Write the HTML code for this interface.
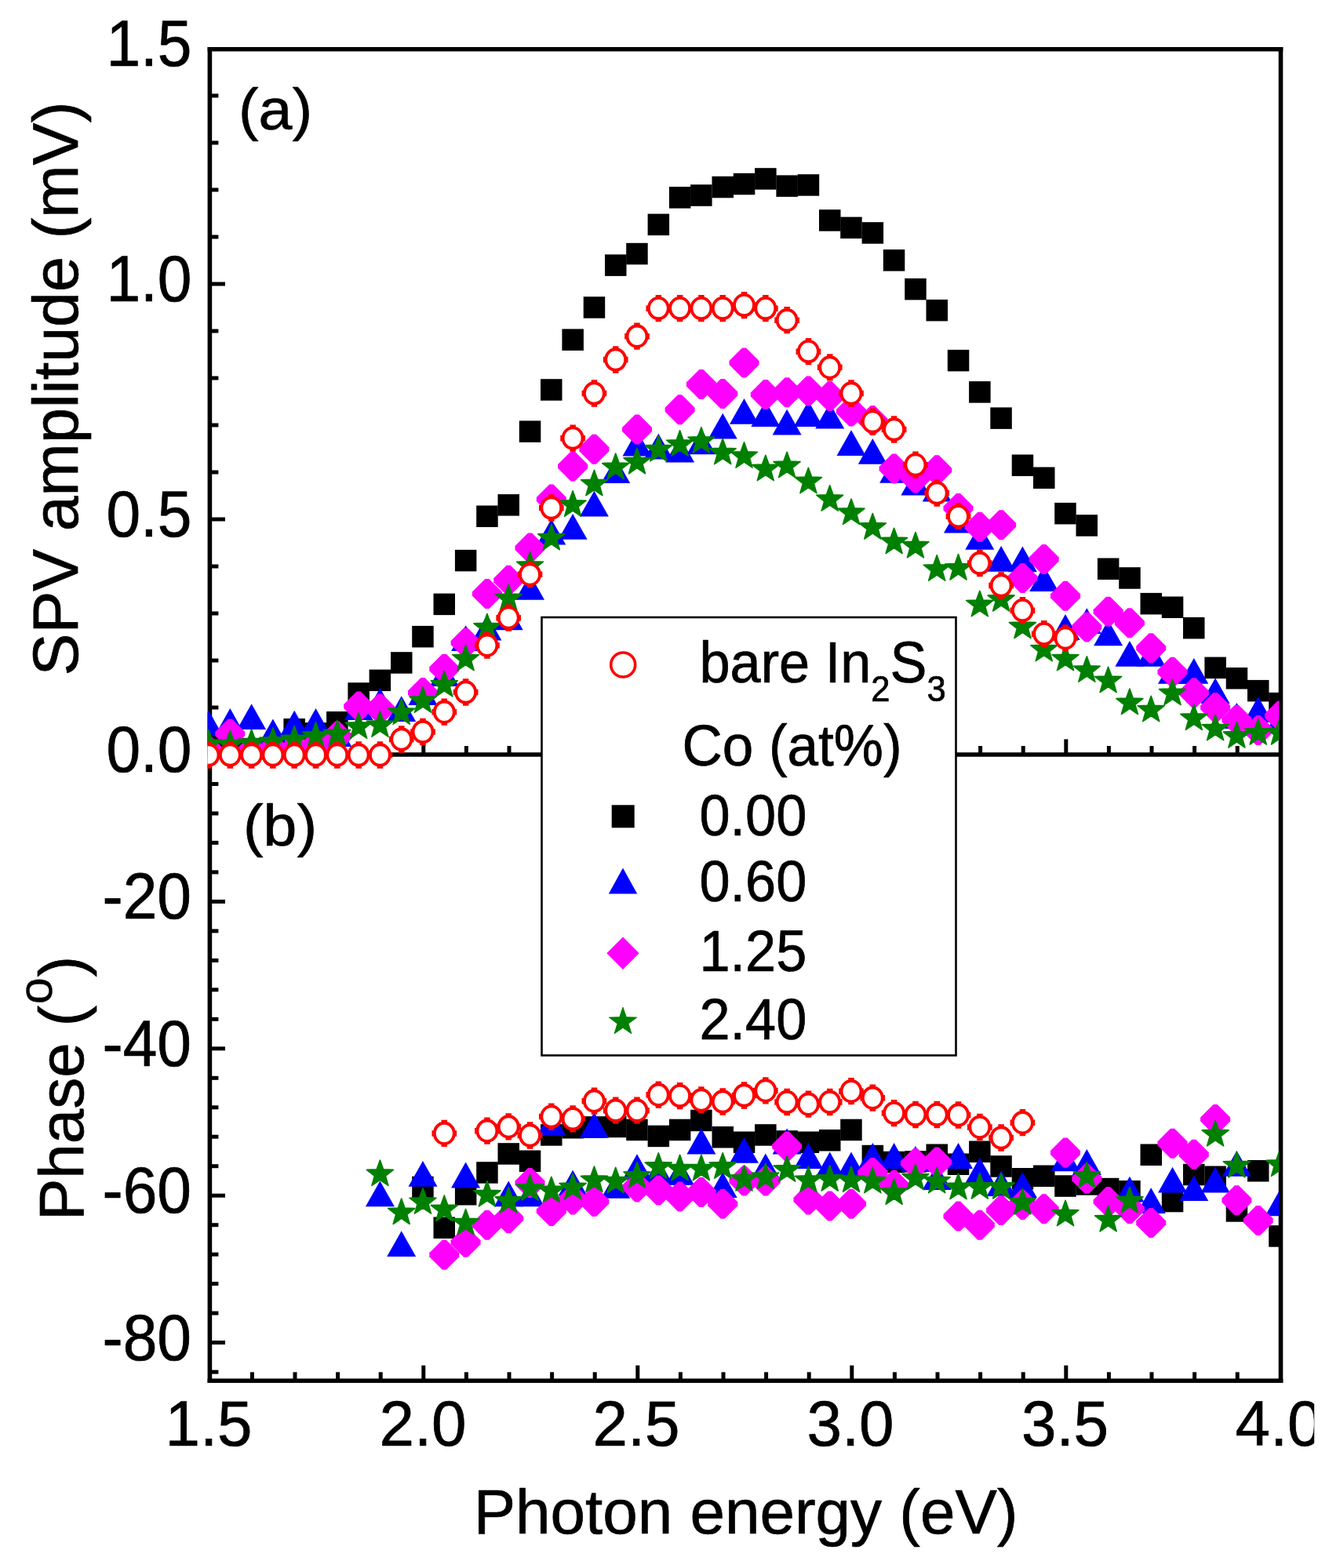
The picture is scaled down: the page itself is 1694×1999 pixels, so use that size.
<!DOCTYPE html>
<html lang="en">
<head>
<meta charset="utf-8">
<title>SPV amplitude and phase spectra</title>
<style>
html,body{margin:0;padding:0;background:#ffffff;}
body{width:1694px;height:1999px;overflow:hidden;}
svg{display:block;}
text{font-family:"Liberation Sans","DejaVu Sans",sans-serif;fill:#000000;}
</style>
</head>
<body>
<svg width="1694" height="1999" viewBox="0 0 1694 1999">
<rect x="0" y="0" width="1694" height="1999" fill="#ffffff"/>
<clipPath id="labclip"><rect x="0" y="0" width="1675.2" height="1999"/></clipPath>
<clipPath id="plotclip"><rect x="264.5" y="22.7" width="1365.9" height="1777.6"/></clipPath>
<g id="axis-ticks" stroke="#000000" stroke-width="5" fill="none">
<line x1="267.4" y1="902" x2="278.4" y2="902"/>
<line x1="267.4" y1="842" x2="278.4" y2="842"/>
<line x1="267.4" y1="782" x2="278.4" y2="782"/>
<line x1="267.4" y1="722" x2="278.4" y2="722"/>
<line x1="267.4" y1="662" x2="287" y2="662"/>
<line x1="267.4" y1="602" x2="278.4" y2="602"/>
<line x1="267.4" y1="542" x2="278.4" y2="542"/>
<line x1="267.4" y1="482" x2="278.4" y2="482"/>
<line x1="267.4" y1="422" x2="278.4" y2="422"/>
<line x1="267.4" y1="362" x2="287" y2="362"/>
<line x1="267.4" y1="302" x2="278.4" y2="302"/>
<line x1="267.4" y1="242" x2="278.4" y2="242"/>
<line x1="267.4" y1="182" x2="278.4" y2="182"/>
<line x1="267.4" y1="122" x2="278.4" y2="122"/>
<line x1="267.4" y1="999.5" x2="278.4" y2="999.5"/>
<line x1="267.4" y1="1037" x2="278.4" y2="1037"/>
<line x1="267.4" y1="1074.4" x2="278.4" y2="1074.4"/>
<line x1="267.4" y1="1111.9" x2="278.4" y2="1111.9"/>
<line x1="267.4" y1="1149.4" x2="287" y2="1149.4"/>
<line x1="267.4" y1="1186.9" x2="278.4" y2="1186.9"/>
<line x1="267.4" y1="1224.4" x2="278.4" y2="1224.4"/>
<line x1="267.4" y1="1261.8" x2="278.4" y2="1261.8"/>
<line x1="267.4" y1="1299.3" x2="278.4" y2="1299.3"/>
<line x1="267.4" y1="1336.8" x2="287" y2="1336.8"/>
<line x1="267.4" y1="1374.3" x2="278.4" y2="1374.3"/>
<line x1="267.4" y1="1411.8" x2="278.4" y2="1411.8"/>
<line x1="267.4" y1="1449.2" x2="278.4" y2="1449.2"/>
<line x1="267.4" y1="1486.7" x2="278.4" y2="1486.7"/>
<line x1="267.4" y1="1524.2" x2="287" y2="1524.2"/>
<line x1="267.4" y1="1561.7" x2="278.4" y2="1561.7"/>
<line x1="267.4" y1="1599.2" x2="278.4" y2="1599.2"/>
<line x1="267.4" y1="1636.6" x2="278.4" y2="1636.6"/>
<line x1="267.4" y1="1674.1" x2="278.4" y2="1674.1"/>
<line x1="267.4" y1="1711.6" x2="287" y2="1711.6"/>
<line x1="267.4" y1="1749.1" x2="278.4" y2="1749.1"/>
<line x1="321.4" y1="1760.3" x2="321.4" y2="1749.3"/>
<line x1="376" y1="1760.3" x2="376" y2="1749.3"/>
<line x1="430.6" y1="1760.3" x2="430.6" y2="1749.3"/>
<line x1="485.2" y1="1760.3" x2="485.2" y2="1749.3"/>
<line x1="539.8" y1="1760.3" x2="539.8" y2="1740.7"/>
<line x1="594.4" y1="1760.3" x2="594.4" y2="1749.3"/>
<line x1="649" y1="1760.3" x2="649" y2="1749.3"/>
<line x1="703.6" y1="1760.3" x2="703.6" y2="1749.3"/>
<line x1="758.2" y1="1760.3" x2="758.2" y2="1749.3"/>
<line x1="812.8" y1="1760.3" x2="812.8" y2="1740.7"/>
<line x1="867.4" y1="1760.3" x2="867.4" y2="1749.3"/>
<line x1="922" y1="1760.3" x2="922" y2="1749.3"/>
<line x1="976.6" y1="1760.3" x2="976.6" y2="1749.3"/>
<line x1="1031.2" y1="1760.3" x2="1031.2" y2="1749.3"/>
<line x1="1085.8" y1="1760.3" x2="1085.8" y2="1740.7"/>
<line x1="1140.4" y1="1760.3" x2="1140.4" y2="1749.3"/>
<line x1="1195" y1="1760.3" x2="1195" y2="1749.3"/>
<line x1="1249.6" y1="1760.3" x2="1249.6" y2="1749.3"/>
<line x1="1304.2" y1="1760.3" x2="1304.2" y2="1749.3"/>
<line x1="1358.8" y1="1760.3" x2="1358.8" y2="1740.7"/>
<line x1="1413.4" y1="1760.3" x2="1413.4" y2="1749.3"/>
<line x1="1468" y1="1760.3" x2="1468" y2="1749.3"/>
<line x1="1522.6" y1="1760.3" x2="1522.6" y2="1749.3"/>
<line x1="1577.2" y1="1760.3" x2="1577.2" y2="1749.3"/>
<line x1="321.4" y1="962" x2="321.4" y2="951"/>
<line x1="376" y1="962" x2="376" y2="951"/>
<line x1="430.6" y1="962" x2="430.6" y2="951"/>
<line x1="485.2" y1="962" x2="485.2" y2="951"/>
<line x1="539.8" y1="962" x2="539.8" y2="942.4"/>
<line x1="594.4" y1="962" x2="594.4" y2="951"/>
<line x1="649" y1="962" x2="649" y2="951"/>
<line x1="703.6" y1="962" x2="703.6" y2="951"/>
<line x1="758.2" y1="962" x2="758.2" y2="951"/>
<line x1="812.8" y1="962" x2="812.8" y2="942.4"/>
<line x1="867.4" y1="962" x2="867.4" y2="951"/>
<line x1="922" y1="962" x2="922" y2="951"/>
<line x1="976.6" y1="962" x2="976.6" y2="951"/>
<line x1="1031.2" y1="962" x2="1031.2" y2="951"/>
<line x1="1085.8" y1="962" x2="1085.8" y2="942.4"/>
<line x1="1140.4" y1="962" x2="1140.4" y2="951"/>
<line x1="1195" y1="962" x2="1195" y2="951"/>
<line x1="1249.6" y1="962" x2="1249.6" y2="951"/>
<line x1="1304.2" y1="962" x2="1304.2" y2="951"/>
<line x1="1358.8" y1="962" x2="1358.8" y2="942.4"/>
<line x1="1413.4" y1="962" x2="1413.4" y2="951"/>
<line x1="1468" y1="962" x2="1468" y2="951"/>
<line x1="1522.6" y1="962" x2="1522.6" y2="951"/>
<line x1="1577.2" y1="962" x2="1577.2" y2="951"/>
</g>
<line x1="267.4" y1="962" x2="1632.5" y2="962" stroke="#000000" stroke-width="5.6"/>
<g id="frame" stroke="#000000" stroke-width="5.6" fill="none" stroke-linecap="square">
<line x1="267.4" y1="62.7" x2="267.4" y2="1760.3"/>
<line x1="267.4" y1="62.7" x2="1632.5" y2="62.7"/>
<line x1="1632.5" y1="62.7" x2="1632.5" y2="1760.3"/>
<line x1="267.4" y1="1760.3" x2="1632.5" y2="1760.3"/>
</g>
<g clip-path="url(#plotclip)">
<g id="lower">
<g fill="#000000">
<rect x="525.2" y="1499.7" width="27.5" height="27.5"/>
<rect x="552.5" y="1551.5" width="27.5" height="27.5"/>
<rect x="579.9" y="1509" width="27.5" height="27.5"/>
<rect x="607.2" y="1481.2" width="27.5" height="27.5"/>
<rect x="634.5" y="1457.2" width="27.5" height="27.5"/>
<rect x="661.8" y="1466.5" width="27.5" height="27.5"/>
<rect x="689" y="1433.2" width="27.5" height="27.5"/>
<rect x="716.4" y="1424" width="27.5" height="27.5"/>
<rect x="743.7" y="1423.2" width="27.5" height="27.5"/>
<rect x="771" y="1422.7" width="27.5" height="27.5"/>
<rect x="798.2" y="1426.7" width="27.5" height="27.5"/>
<rect x="825.6" y="1434.7" width="27.5" height="27.5"/>
<rect x="852.9" y="1426.7" width="27.5" height="27.5"/>
<rect x="880.1" y="1414.7" width="27.5" height="27.5"/>
<rect x="907.5" y="1436" width="27.5" height="27.5"/>
<rect x="934.8" y="1442.5" width="27.5" height="27.5"/>
<rect x="962.1" y="1433.2" width="27.5" height="27.5"/>
<rect x="989.4" y="1441.2" width="27.5" height="27.5"/>
<rect x="1016.7" y="1442.5" width="27.5" height="27.5"/>
<rect x="1044" y="1440" width="27.5" height="27.5"/>
<rect x="1071.2" y="1426.7" width="27.5" height="27.5"/>
<rect x="1098.6" y="1459.8" width="27.5" height="27.5"/>
<rect x="1125.8" y="1467.8" width="27.5" height="27.5"/>
<rect x="1153.2" y="1467.2" width="27.5" height="27.5"/>
<rect x="1180.5" y="1458.5" width="27.5" height="27.5"/>
<rect x="1207.8" y="1470.5" width="27.5" height="27.5"/>
<rect x="1235.1" y="1454.5" width="27.5" height="27.5"/>
<rect x="1262.3" y="1473.2" width="27.5" height="27.5"/>
<rect x="1289.7" y="1489" width="27.5" height="27.5"/>
<rect x="1317" y="1485.5" width="27.5" height="27.5"/>
<rect x="1344.2" y="1498.3" width="27.5" height="27.5"/>
<rect x="1371.5" y="1496.2" width="27.5" height="27.5"/>
<rect x="1398.9" y="1501.8" width="27.5" height="27.5"/>
<rect x="1426.2" y="1505" width="27.5" height="27.5"/>
<rect x="1453.5" y="1458.5" width="27.5" height="27.5"/>
<rect x="1480.8" y="1517.8" width="27.5" height="27.5"/>
<rect x="1508" y="1483.8" width="27.5" height="27.5"/>
<rect x="1535.4" y="1486.5" width="27.5" height="27.5"/>
<rect x="1562.7" y="1530.2" width="27.5" height="27.5"/>
<rect x="1590" y="1479" width="27.5" height="27.5"/>
<rect x="1617.2" y="1562.2" width="27.5" height="27.5"/>
</g>
<g fill="#0000ff">
<polygon points="484.4,1505.5 502.9,1538.3 465.9,1538.3"/>
<polygon points="511.7,1569.3 530.2,1602.1 493.2,1602.1"/>
<polygon points="539,1480 557.5,1512.8 520.5,1512.8"/>
<polygon points="593.6,1481.6 612.1,1514.4 575.1,1514.4"/>
<polygon points="648.2,1505.5 666.7,1538.3 629.7,1538.3"/>
<polygon points="675.5,1505.5 694,1538.3 657,1538.3"/>
<polygon points="702.8,1415.2 721.3,1448 684.3,1448"/>
<polygon points="730.1,1491.7 748.6,1524.5 711.6,1524.5"/>
<polygon points="757.4,1417.9 775.9,1450.7 738.9,1450.7"/>
<polygon points="784.7,1494.9 803.2,1527.7 766.2,1527.7"/>
<polygon points="812,1471.2 830.5,1504 793.5,1504"/>
<polygon points="839.3,1477.2 857.8,1510 820.8,1510"/>
<polygon points="866.6,1478.2 885.1,1511 848.1,1511"/>
<polygon points="893.9,1438.6 912.4,1471.4 875.4,1471.4"/>
<polygon points="921.2,1494.3 939.7,1527.1 902.7,1527.1"/>
<polygon points="948.5,1450 967,1482.8 930,1482.8"/>
<polygon points="975.8,1470.4 994.3,1503.2 957.3,1503.2"/>
<polygon points="1003.1,1438.6 1021.6,1471.4 984.6,1471.4"/>
<polygon points="1030.4,1457.1 1048.9,1489.9 1011.9,1489.9"/>
<polygon points="1057.7,1468.6 1076.2,1501.4 1039.2,1501.4"/>
<polygon points="1085,1468.6 1103.5,1501.4 1066.5,1501.4"/>
<polygon points="1112.3,1457.1 1130.8,1489.9 1093.8,1489.9"/>
<polygon points="1139.6,1457.1 1158.1,1489.9 1121.1,1489.9"/>
<polygon points="1166.9,1461.1 1185.4,1493.9 1148.4,1493.9"/>
<polygon points="1194.2,1484.2 1212.7,1517 1175.7,1517"/>
<polygon points="1221.5,1457.1 1240,1489.9 1203,1489.9"/>
<polygon points="1248.8,1475.8 1267.3,1508.6 1230.3,1508.6"/>
<polygon points="1276.1,1492.2 1294.6,1525 1257.6,1525"/>
<polygon points="1303.4,1494.3 1321.9,1527.1 1284.9,1527.1"/>
<polygon points="1358,1460.4 1376.5,1493.2 1339.5,1493.2"/>
<polygon points="1385.3,1465.1 1403.8,1497.9 1366.8,1497.9"/>
<polygon points="1439.9,1499.7 1458.4,1532.5 1421.4,1532.5"/>
<polygon points="1467.2,1514.3 1485.7,1547.1 1448.7,1547.1"/>
<polygon points="1494.5,1487.7 1513,1520.5 1476,1520.5"/>
<polygon points="1521.8,1498.3 1540.3,1531.1 1503.3,1531.1"/>
<polygon points="1549.1,1487.7 1567.6,1520.5 1530.6,1520.5"/>
<polygon points="1576.4,1467 1594.9,1499.8 1557.9,1499.8"/>
<polygon points="1631,1517.5 1649.5,1550.3 1612.5,1550.3"/>
</g>
<g fill="#ff00ff">
<polygon points="563.8,1580.8 568.8,1580.8 585.3,1597.3 585.3,1602.3 568.8,1618.8 563.8,1618.8 547.3,1602.3 547.3,1597.3"/>
<polygon points="591.1,1564.8 596.1,1564.8 612.6,1581.3 612.6,1586.3 596.1,1602.8 591.1,1602.8 574.6,1586.3 574.6,1581.3"/>
<polygon points="618.4,1542.8 623.4,1542.8 639.9,1559.3 639.9,1564.3 623.4,1580.8 618.4,1580.8 601.9,1564.3 601.9,1559.3"/>
<polygon points="645.7,1534.3 650.7,1534.3 667.2,1550.8 667.2,1555.8 650.7,1572.3 645.7,1572.3 629.2,1555.8 629.2,1550.8"/>
<polygon points="673,1489.1 678,1489.1 694.5,1505.6 694.5,1510.6 678,1527.1 673,1527.1 656.5,1510.6 656.5,1505.6"/>
<polygon points="700.3,1525 705.3,1525 721.8,1541.5 721.8,1546.5 705.3,1563 700.3,1563 683.8,1546.5 683.8,1541.5"/>
<polygon points="727.6,1510.4 732.6,1510.4 749.1,1526.9 749.1,1531.9 732.6,1548.4 727.6,1548.4 711.1,1531.9 711.1,1526.9"/>
<polygon points="754.9,1513 759.9,1513 776.4,1529.5 776.4,1534.5 759.9,1551 754.9,1551 738.4,1534.5 738.4,1529.5"/>
<polygon points="809.5,1494.4 814.5,1494.4 831,1510.9 831,1515.9 814.5,1532.4 809.5,1532.4 793,1515.9 793,1510.9"/>
<polygon points="836.8,1498.4 841.8,1498.4 858.3,1514.9 858.3,1519.9 841.8,1536.4 836.8,1536.4 820.3,1519.9 820.3,1514.9"/>
<polygon points="864.1,1506.4 869.1,1506.4 885.6,1522.9 885.6,1527.9 869.1,1544.4 864.1,1544.4 847.6,1527.9 847.6,1522.9"/>
<polygon points="891.4,1501 896.4,1501 912.9,1517.5 912.9,1522.5 896.4,1539 891.4,1539 874.9,1522.5 874.9,1517.5"/>
<polygon points="918.7,1515.7 923.7,1515.7 940.2,1532.2 940.2,1537.2 923.7,1553.7 918.7,1553.7 902.2,1537.2 902.2,1532.2"/>
<polygon points="946,1486.5 951,1486.5 967.5,1503 967.5,1508 951,1524.5 946,1524.5 929.5,1508 929.5,1503"/>
<polygon points="973.3,1486.5 978.3,1486.5 994.8,1503 994.8,1508 978.3,1524.5 973.3,1524.5 956.8,1508 956.8,1503"/>
<polygon points="1000.6,1442.6 1005.6,1442.6 1022.1,1459.1 1022.1,1464.1 1005.6,1480.6 1000.6,1480.6 984.1,1464.1 984.1,1459.1"/>
<polygon points="1027.9,1510.4 1032.9,1510.4 1049.4,1526.9 1049.4,1531.9 1032.9,1548.4 1027.9,1548.4 1011.4,1531.9 1011.4,1526.9"/>
<polygon points="1055.2,1518.4 1060.2,1518.4 1076.7,1534.9 1076.7,1539.9 1060.2,1556.4 1055.2,1556.4 1038.7,1539.9 1038.7,1534.9"/>
<polygon points="1082.5,1515.7 1087.5,1515.7 1104,1532.2 1104,1537.2 1087.5,1553.7 1082.5,1553.7 1066,1537.2 1066,1532.2"/>
<polygon points="1109.8,1475.9 1114.8,1475.9 1131.3,1492.4 1131.3,1497.4 1114.8,1513.9 1109.8,1513.9 1093.3,1497.4 1093.3,1492.4"/>
<polygon points="1137.1,1491.8 1142.1,1491.8 1158.6,1508.3 1158.6,1513.3 1142.1,1529.8 1137.1,1529.8 1120.6,1513.3 1120.6,1508.3"/>
<polygon points="1164.4,1463.9 1169.4,1463.9 1185.9,1480.4 1185.9,1485.4 1169.4,1501.9 1164.4,1501.9 1147.9,1485.4 1147.9,1480.4"/>
<polygon points="1191.7,1462.6 1196.7,1462.6 1213.2,1479.1 1213.2,1484.1 1196.7,1500.6 1191.7,1500.6 1175.2,1484.1 1175.2,1479.1"/>
<polygon points="1219,1531.6 1224,1531.6 1240.5,1548.1 1240.5,1553.1 1224,1569.6 1219,1569.6 1202.5,1553.1 1202.5,1548.1"/>
<polygon points="1246.3,1542.8 1251.3,1542.8 1267.8,1559.3 1267.8,1564.3 1251.3,1580.8 1246.3,1580.8 1229.8,1564.3 1229.8,1559.3"/>
<polygon points="1273.6,1524 1278.6,1524 1295.1,1540.5 1295.1,1545.5 1278.6,1562 1273.6,1562 1257.1,1545.5 1257.1,1540.5"/>
<polygon points="1300.9,1517 1305.9,1517 1322.4,1533.5 1322.4,1538.5 1305.9,1555 1300.9,1555 1284.4,1538.5 1284.4,1533.5"/>
<polygon points="1328.2,1522.3 1333.2,1522.3 1349.7,1538.8 1349.7,1543.8 1333.2,1560.3 1328.2,1560.3 1311.7,1543.8 1311.7,1538.8"/>
<polygon points="1355.5,1450.6 1360.5,1450.6 1377,1467.1 1377,1472.1 1360.5,1488.6 1355.5,1488.6 1339,1472.1 1339,1467.1"/>
<polygon points="1382.8,1483.8 1387.8,1483.8 1404.3,1500.3 1404.3,1505.3 1387.8,1521.8 1382.8,1521.8 1366.3,1505.3 1366.3,1500.3"/>
<polygon points="1410.1,1513 1415.1,1513 1431.6,1529.5 1431.6,1534.5 1415.1,1551 1410.1,1551 1393.6,1534.5 1393.6,1529.5"/>
<polygon points="1437.4,1522.3 1442.4,1522.3 1458.9,1538.8 1458.9,1543.8 1442.4,1560.3 1437.4,1560.3 1420.9,1543.8 1420.9,1538.8"/>
<polygon points="1464.7,1540.1 1469.7,1540.1 1486.2,1556.6 1486.2,1561.6 1469.7,1578.1 1464.7,1578.1 1448.2,1561.6 1448.2,1556.6"/>
<polygon points="1492,1438.7 1497,1438.7 1513.5,1455.2 1513.5,1460.2 1497,1476.7 1492,1476.7 1475.5,1460.2 1475.5,1455.2"/>
<polygon points="1519.3,1452.7 1524.3,1452.7 1540.8,1469.2 1540.8,1474.2 1524.3,1490.7 1519.3,1490.7 1502.8,1474.2 1502.8,1469.2"/>
<polygon points="1546.6,1408.1 1551.6,1408.1 1568.1,1424.6 1568.1,1429.6 1551.6,1446.1 1546.6,1446.1 1530.1,1429.6 1530.1,1424.6"/>
<polygon points="1573.9,1511.2 1578.9,1511.2 1595.4,1527.7 1595.4,1532.7 1578.9,1549.2 1573.9,1549.2 1557.4,1532.7 1557.4,1527.7"/>
<polygon points="1601.2,1537 1606.2,1537 1622.7,1553.5 1622.7,1558.5 1606.2,1575 1601.2,1575 1584.7,1558.5 1584.7,1553.5"/>
</g>
<g fill="#008000" stroke="#008000" stroke-width="1.6" stroke-linejoin="round">
<polygon points="484.4,1479 488.7,1490.9 501.4,1491.4 491.4,1499.2 494.9,1511.4 484.4,1504.3 473.9,1511.4 477.4,1499.2 467.4,1491.4 480.1,1490.9"/>
<polygon points="511.7,1528.1 516,1540 528.7,1540.5 518.7,1548.3 522.2,1560.5 511.7,1553.4 501.2,1560.5 504.7,1548.3 494.7,1540.5 507.4,1540"/>
<polygon points="539,1514.8 543.3,1526.7 556,1527.2 546,1535 549.5,1547.2 539,1540.1 528.5,1547.2 532,1535 522,1527.2 534.7,1526.7"/>
<polygon points="566.3,1524.1 570.6,1536 583.3,1536.5 573.3,1544.3 576.8,1556.5 566.3,1549.4 555.8,1556.5 559.3,1544.3 549.3,1536.5 562,1536"/>
<polygon points="593.6,1541.4 597.9,1553.3 610.6,1553.8 600.6,1561.6 604.1,1573.8 593.6,1566.7 583.1,1573.8 586.6,1561.6 576.6,1553.8 589.3,1553.3"/>
<polygon points="620.9,1505.5 625.2,1517.4 637.9,1517.9 627.9,1525.7 631.4,1537.9 620.9,1530.8 610.4,1537.9 613.9,1525.7 603.9,1517.9 616.6,1517.4"/>
<polygon points="648.2,1513.5 652.5,1525.4 665.2,1525.9 655.2,1533.7 658.7,1545.9 648.2,1538.8 637.7,1545.9 641.2,1533.7 631.2,1525.9 643.9,1525.4"/>
<polygon points="675.5,1497.6 679.8,1509.5 692.5,1510 682.5,1517.8 686,1530 675.5,1522.9 665,1530 668.5,1517.8 658.5,1510 671.2,1509.5"/>
<polygon points="702.8,1500.2 707.1,1512.1 719.8,1512.6 709.8,1520.4 713.3,1532.6 702.8,1525.5 692.3,1532.6 695.8,1520.4 685.8,1512.6 698.5,1512.1"/>
<polygon points="730.1,1496.2 734.4,1508.1 747.1,1508.6 737.1,1516.4 740.6,1528.6 730.1,1521.5 719.6,1528.6 723.1,1516.4 713.1,1508.6 725.8,1508.1"/>
<polygon points="757.4,1487 761.7,1498.9 774.4,1499.4 764.4,1507.2 767.9,1519.4 757.4,1512.3 746.9,1519.4 750.4,1507.2 740.4,1499.4 753.1,1498.9"/>
<polygon points="784.7,1488.3 789,1500.2 801.7,1500.7 791.7,1508.5 795.2,1520.7 784.7,1513.6 774.2,1520.7 777.7,1508.5 767.7,1500.7 780.4,1500.2"/>
<polygon points="812,1481.6 816.3,1493.5 829,1494 819,1501.8 822.5,1514 812,1506.9 801.5,1514 805,1501.8 795,1494 807.7,1493.5"/>
<polygon points="839.3,1469.7 843.6,1481.6 856.3,1482.1 846.3,1489.9 849.8,1502.1 839.3,1495 828.8,1502.1 832.3,1489.9 822.3,1482.1 835,1481.6"/>
<polygon points="866.6,1472.3 870.9,1484.2 883.6,1484.7 873.6,1492.5 877.1,1504.7 866.6,1497.6 856.1,1504.7 859.6,1492.5 849.6,1484.7 862.3,1484.2"/>
<polygon points="893.9,1472.3 898.2,1484.2 910.9,1484.7 900.9,1492.5 904.4,1504.7 893.9,1497.6 883.4,1504.7 886.9,1492.5 876.9,1484.7 889.6,1484.2"/>
<polygon points="921.2,1469.7 925.5,1481.6 938.2,1482.1 928.2,1489.9 931.7,1502.1 921.2,1495 910.7,1502.1 914.2,1489.9 904.2,1482.1 916.9,1481.6"/>
<polygon points="948.5,1485.6 952.8,1497.5 965.5,1498 955.5,1505.8 959,1518 948.5,1510.9 938,1518 941.5,1505.8 931.5,1498 944.2,1497.5"/>
<polygon points="975.8,1483 980.1,1494.9 992.8,1495.4 982.8,1503.2 986.3,1515.4 975.8,1508.3 965.3,1515.4 968.8,1503.2 958.8,1495.4 971.5,1494.9"/>
<polygon points="1003.1,1473.7 1007.4,1485.6 1020.1,1486.1 1010.1,1493.9 1013.6,1506.1 1003.1,1499 992.6,1506.1 996.1,1493.9 986.1,1486.1 998.8,1485.6"/>
<polygon points="1030.4,1487 1034.7,1498.9 1047.4,1499.4 1037.4,1507.2 1040.9,1519.4 1030.4,1512.3 1019.9,1519.4 1023.4,1507.2 1013.4,1499.4 1026.1,1498.9"/>
<polygon points="1057.7,1485.6 1062,1497.5 1074.7,1498 1064.7,1505.8 1068.2,1518 1057.7,1510.9 1047.2,1518 1050.7,1505.8 1040.7,1498 1053.4,1497.5"/>
<polygon points="1085,1487 1089.3,1498.9 1102,1499.4 1092,1507.2 1095.5,1519.4 1085,1512.3 1074.5,1519.4 1078,1507.2 1068,1499.4 1080.7,1498.9"/>
<polygon points="1112.3,1488.3 1116.6,1500.2 1129.3,1500.7 1119.3,1508.5 1122.8,1520.7 1112.3,1513.6 1101.8,1520.7 1105.3,1508.5 1095.3,1500.7 1108,1500.2"/>
<polygon points="1139.6,1502.9 1143.9,1514.8 1156.6,1515.3 1146.6,1523.1 1150.1,1535.3 1139.6,1528.2 1129.1,1535.3 1132.6,1523.1 1122.6,1515.3 1135.3,1514.8"/>
<polygon points="1166.9,1484.3 1171.2,1496.2 1183.9,1496.7 1173.9,1504.5 1177.4,1516.7 1166.9,1509.6 1156.4,1516.7 1159.9,1504.5 1149.9,1496.7 1162.6,1496.2"/>
<polygon points="1194.2,1488.3 1198.5,1500.2 1211.2,1500.7 1201.2,1508.5 1204.7,1520.7 1194.2,1513.6 1183.7,1520.7 1187.2,1508.5 1177.2,1500.7 1189.9,1500.2"/>
<polygon points="1221.5,1496.2 1225.8,1508.1 1238.5,1508.6 1228.5,1516.4 1232,1528.6 1221.5,1521.5 1211,1528.6 1214.5,1516.4 1204.5,1508.6 1217.2,1508.1"/>
<polygon points="1248.8,1495.6 1253.1,1507.5 1265.8,1508 1255.8,1515.8 1259.3,1528 1248.8,1520.9 1238.3,1528 1241.8,1515.8 1231.8,1508 1244.5,1507.5"/>
<polygon points="1276.1,1495.6 1280.4,1507.5 1293.1,1508 1283.1,1515.8 1286.6,1528 1276.1,1520.9 1265.6,1528 1269.1,1515.8 1259.1,1508 1271.8,1507.5"/>
<polygon points="1303.4,1515.4 1307.7,1527.3 1320.4,1527.8 1310.4,1535.6 1313.9,1547.8 1303.4,1540.7 1292.9,1547.8 1296.4,1535.6 1286.4,1527.8 1299.1,1527.3"/>
<polygon points="1358,1530.3 1362.3,1542.2 1375,1542.7 1365,1550.5 1368.5,1562.7 1358,1555.6 1347.5,1562.7 1351,1550.5 1341,1542.7 1353.7,1542.2"/>
<polygon points="1385.3,1481.6 1389.6,1493.5 1402.3,1494 1392.3,1501.8 1395.8,1514 1385.3,1506.9 1374.8,1514 1378.3,1501.8 1368.3,1494 1381,1493.5"/>
<polygon points="1412.6,1537.4 1416.9,1549.3 1429.6,1549.8 1419.6,1557.6 1423.1,1569.8 1412.6,1562.7 1402.1,1569.8 1405.6,1557.6 1395.6,1549.8 1408.3,1549.3"/>
<polygon points="1439.9,1513.5 1444.2,1525.4 1456.9,1525.9 1446.9,1533.7 1450.4,1545.9 1439.9,1538.8 1429.4,1545.9 1432.9,1533.7 1422.9,1525.9 1435.6,1525.4"/>
<polygon points="1549.1,1428.5 1553.4,1440.4 1566.1,1440.9 1556.1,1448.7 1559.6,1460.9 1549.1,1453.8 1538.6,1460.9 1542.1,1448.7 1532.1,1440.9 1544.8,1440.4"/>
<polygon points="1576.4,1468.4 1580.7,1480.3 1593.4,1480.8 1583.4,1488.6 1586.9,1500.8 1576.4,1493.7 1565.9,1500.8 1569.4,1488.6 1559.4,1480.8 1572.1,1480.3"/>
<polygon points="1631,1467 1635.3,1478.9 1648,1479.4 1638,1487.2 1641.5,1499.4 1631,1492.3 1620.5,1499.4 1624,1487.2 1614,1479.4 1626.7,1478.9"/>
</g>
<g fill="#ffffff" stroke="#ff0000" stroke-width="3.9">
<path d="M553.8 1444.9a12.5 13.2 0 1 0 25 0a12.5 13.2 0 1 0 -25 0zM562.5 1429.7h7.5 M562.5 1460.1h7.5 M552.4 1441.2v7.5 M580.2 1441.2v7.5"/>
<path d="M608.4 1441.7a12.5 13.2 0 1 0 25 0a12.5 13.2 0 1 0 -25 0zM617.2 1426.5h7.5 M617.2 1456.9h7.5 M607 1438v7.5 M634.8 1438v7.5"/>
<path d="M635.7 1436.4a12.5 13.2 0 1 0 25 0a12.5 13.2 0 1 0 -25 0zM644.5 1421.2h7.5 M644.5 1451.6h7.5 M634.3 1432.7v7.5 M662.1 1432.7v7.5"/>
<path d="M663 1447.5a12.5 13.2 0 1 0 25 0a12.5 13.2 0 1 0 -25 0zM671.8 1432.3h7.5 M671.8 1462.7h7.5 M661.6 1443.8v7.5 M689.4 1443.8v7.5"/>
<path d="M690.3 1423.6a12.5 13.2 0 1 0 25 0a12.5 13.2 0 1 0 -25 0zM699 1408.4h7.5 M699 1438.8h7.5 M688.9 1419.8v7.5 M716.7 1419.8v7.5"/>
<path d="M717.6 1426.3a12.5 13.2 0 1 0 25 0a12.5 13.2 0 1 0 -25 0zM726.4 1411.1h7.5 M726.4 1441.5h7.5 M716.2 1422.5v7.5 M744 1422.5v7.5"/>
<path d="M744.9 1403.7a12.5 13.2 0 1 0 25 0a12.5 13.2 0 1 0 -25 0zM753.7 1388.5h7.5 M753.7 1418.9h7.5 M743.5 1400v7.5 M771.3 1400v7.5"/>
<path d="M772.2 1415.7a12.5 13.2 0 1 0 25 0a12.5 13.2 0 1 0 -25 0zM781 1400.5h7.5 M781 1430.9h7.5 M770.8 1412v7.5 M798.6 1412v7.5"/>
<path d="M799.5 1415.7a12.5 13.2 0 1 0 25 0a12.5 13.2 0 1 0 -25 0zM808.2 1400.5h7.5 M808.2 1430.9h7.5 M798.1 1412v7.5 M825.9 1412v7.5"/>
<path d="M826.8 1395.7a12.5 13.2 0 1 0 25 0a12.5 13.2 0 1 0 -25 0zM835.6 1380.5h7.5 M835.6 1410.9h7.5 M825.4 1392v7.5 M853.2 1392v7.5"/>
<path d="M854.1 1397.1a12.5 13.2 0 1 0 25 0a12.5 13.2 0 1 0 -25 0zM862.9 1381.9h7.5 M862.9 1412.3h7.5 M852.7 1393.3v7.5 M880.5 1393.3v7.5"/>
<path d="M881.4 1402.4a12.5 13.2 0 1 0 25 0a12.5 13.2 0 1 0 -25 0zM890.1 1387.2h7.5 M890.1 1417.6h7.5 M880 1398.7v7.5 M907.8 1398.7v7.5"/>
<path d="M908.7 1404.5a12.5 13.2 0 1 0 25 0a12.5 13.2 0 1 0 -25 0zM917.5 1389.3h7.5 M917.5 1419.7h7.5 M907.3 1400.8v7.5 M935.1 1400.8v7.5"/>
<path d="M936 1396.5a12.5 13.2 0 1 0 25 0a12.5 13.2 0 1 0 -25 0zM944.8 1381.3h7.5 M944.8 1411.7h7.5 M934.6 1392.8v7.5 M962.4 1392.8v7.5"/>
<path d="M963.3 1390.4a12.5 13.2 0 1 0 25 0a12.5 13.2 0 1 0 -25 0zM972.1 1375.2h7.5 M972.1 1405.6h7.5 M961.9 1386.7v7.5 M989.7 1386.7v7.5"/>
<path d="M990.6 1405a12.5 13.2 0 1 0 25 0a12.5 13.2 0 1 0 -25 0zM999.4 1389.8h7.5 M999.4 1420.2h7.5 M989.2 1401.2v7.5 M1017 1401.2v7.5"/>
<path d="M1017.9 1407.7a12.5 13.2 0 1 0 25 0a12.5 13.2 0 1 0 -25 0zM1026.7 1392.5h7.5 M1026.7 1422.9h7.5 M1016.5 1404v7.5 M1044.3 1404v7.5"/>
<path d="M1045.2 1405a12.5 13.2 0 1 0 25 0a12.5 13.2 0 1 0 -25 0zM1054 1389.8h7.5 M1054 1420.2h7.5 M1043.8 1401.2v7.5 M1071.6 1401.2v7.5"/>
<path d="M1072.5 1391.2a12.5 13.2 0 1 0 25 0a12.5 13.2 0 1 0 -25 0zM1081.2 1376h7.5 M1081.2 1406.4h7.5 M1071.1 1387.5v7.5 M1098.9 1387.5v7.5"/>
<path d="M1099.8 1399.7a12.5 13.2 0 1 0 25 0a12.5 13.2 0 1 0 -25 0zM1108.6 1384.5h7.5 M1108.6 1414.9h7.5 M1098.4 1396v7.5 M1126.2 1396v7.5"/>
<path d="M1127.1 1419.1a12.5 13.2 0 1 0 25 0a12.5 13.2 0 1 0 -25 0zM1135.8 1403.9h7.5 M1135.8 1434.3h7.5 M1125.7 1415.3v7.5 M1153.5 1415.3v7.5"/>
<path d="M1154.4 1421a12.5 13.2 0 1 0 25 0a12.5 13.2 0 1 0 -25 0zM1163.2 1405.8h7.5 M1163.2 1436.2h7.5 M1153 1417.2v7.5 M1180.8 1417.2v7.5"/>
<path d="M1181.7 1421a12.5 13.2 0 1 0 25 0a12.5 13.2 0 1 0 -25 0zM1190.5 1405.8h7.5 M1190.5 1436.2h7.5 M1180.3 1417.2v7.5 M1208.1 1417.2v7.5"/>
<path d="M1209 1421.5a12.5 13.2 0 1 0 25 0a12.5 13.2 0 1 0 -25 0zM1217.8 1406.3h7.5 M1217.8 1436.7h7.5 M1207.6 1417.8v7.5 M1235.4 1417.8v7.5"/>
<path d="M1236.3 1436.9a12.5 13.2 0 1 0 25 0a12.5 13.2 0 1 0 -25 0zM1245.1 1421.7h7.5 M1245.1 1452.1h7.5 M1234.9 1433.2v7.5 M1262.7 1433.2v7.5"/>
<path d="M1263.6 1450.5a12.5 13.2 0 1 0 25 0a12.5 13.2 0 1 0 -25 0zM1272.3 1435.3h7.5 M1272.3 1465.7h7.5 M1262.2 1446.8v7.5 M1290 1446.8v7.5"/>
<path d="M1290.9 1431.2a12.5 13.2 0 1 0 25 0a12.5 13.2 0 1 0 -25 0zM1299.7 1416h7.5 M1299.7 1446.4h7.5 M1289.5 1427.5v7.5 M1317.3 1427.5v7.5"/>
</g>
</g>
<g id="upper">
<g fill="#000000">
<rect x="252.2" y="937.2" width="27.5" height="27.5"/>
<rect x="279.6" y="940.2" width="27.5" height="27.5"/>
<rect x="306.9" y="940.8" width="27.5" height="27.5"/>
<rect x="334.1" y="940.8" width="27.5" height="27.5"/>
<rect x="361.4" y="916" width="27.5" height="27.5"/>
<rect x="388.8" y="921.2" width="27.5" height="27.5"/>
<rect x="416.1" y="907" width="27.5" height="27.5"/>
<rect x="443.4" y="870.2" width="27.5" height="27.5"/>
<rect x="470.6" y="853.6" width="27.5" height="27.5"/>
<rect x="498" y="831.2" width="27.5" height="27.5"/>
<rect x="525.2" y="797.9" width="27.5" height="27.5"/>
<rect x="552.5" y="756.6" width="27.5" height="27.5"/>
<rect x="579.9" y="700.9" width="27.5" height="27.5"/>
<rect x="607.2" y="644.5" width="27.5" height="27.5"/>
<rect x="634.5" y="630.1" width="27.5" height="27.5"/>
<rect x="661.8" y="536.4" width="27.5" height="27.5"/>
<rect x="689" y="483.2" width="27.5" height="27.5"/>
<rect x="716.4" y="419.4" width="27.5" height="27.5"/>
<rect x="743.7" y="378.2" width="27.5" height="27.5"/>
<rect x="771" y="324.4" width="27.5" height="27.5"/>
<rect x="798.2" y="309.8" width="27.5" height="27.5"/>
<rect x="825.6" y="272.6" width="27.5" height="27.5"/>
<rect x="852.9" y="238.1" width="27.5" height="27.5"/>
<rect x="880.1" y="235.3" width="27.5" height="27.5"/>
<rect x="907.5" y="224.8" width="27.5" height="27.5"/>
<rect x="934.8" y="220.8" width="27.5" height="27.5"/>
<rect x="962.1" y="214.2" width="27.5" height="27.5"/>
<rect x="989.4" y="223.4" width="27.5" height="27.5"/>
<rect x="1016.7" y="222.2" width="27.5" height="27.5"/>
<rect x="1044" y="267.2" width="27.5" height="27.5"/>
<rect x="1071.2" y="276.6" width="27.5" height="27.5"/>
<rect x="1098.6" y="283.2" width="27.5" height="27.5"/>
<rect x="1125.8" y="318.1" width="27.5" height="27.5"/>
<rect x="1153.2" y="354.9" width="27.5" height="27.5"/>
<rect x="1180.5" y="381.9" width="27.5" height="27.5"/>
<rect x="1207.8" y="445.9" width="27.5" height="27.5"/>
<rect x="1235.1" y="486.1" width="27.5" height="27.5"/>
<rect x="1262.3" y="519.4" width="27.5" height="27.5"/>
<rect x="1289.7" y="579.5" width="27.5" height="27.5"/>
<rect x="1317" y="595.5" width="27.5" height="27.5"/>
<rect x="1344.2" y="640.9" width="27.5" height="27.5"/>
<rect x="1371.5" y="656.2" width="27.5" height="27.5"/>
<rect x="1398.9" y="711.5" width="27.5" height="27.5"/>
<rect x="1426.2" y="723.2" width="27.5" height="27.5"/>
<rect x="1453.5" y="755.9" width="27.5" height="27.5"/>
<rect x="1480.8" y="760.5" width="27.5" height="27.5"/>
<rect x="1508" y="786.9" width="27.5" height="27.5"/>
<rect x="1535.4" y="837.6" width="27.5" height="27.5"/>
<rect x="1562.7" y="851" width="27.5" height="27.5"/>
<rect x="1590" y="866.9" width="27.5" height="27.5"/>
<rect x="1617.2" y="882.9" width="27.5" height="27.5"/>
</g>
<g fill="#0000ff">
<polygon points="266,905.7 284.5,938.5 247.5,938.5"/>
<polygon points="293.3,903.1 311.8,935.9 274.8,935.9"/>
<polygon points="320.6,897.3 339.1,930.1 302.1,930.1"/>
<polygon points="347.9,916.4 366.4,949.2 329.4,949.2"/>
<polygon points="375.2,905.8 393.7,938.6 356.7,938.6"/>
<polygon points="402.5,903.1 421,935.9 384,935.9"/>
<polygon points="429.8,919.2 448.3,952 411.3,952"/>
<polygon points="457.1,885.2 475.6,918 438.6,918"/>
<polygon points="484.4,877.1 502.9,909.9 465.9,909.9"/>
<polygon points="511.7,887.3 530.2,920.1 493.2,920.1"/>
<polygon points="539,866.2 557.5,899 520.5,899"/>
<polygon points="566.3,842.2 584.8,875 547.8,875"/>
<polygon points="593.6,797.2 612.1,830 575.1,830"/>
<polygon points="620.9,783.7 639.4,816.5 602.4,816.5"/>
<polygon points="648.2,770.4 666.7,803.2 629.7,803.2"/>
<polygon points="675.5,731.9 694,764.7 657,764.7"/>
<polygon points="702.8,661.7 721.3,694.5 684.3,694.5"/>
<polygon points="730.1,655 748.6,687.8 711.6,687.8"/>
<polygon points="757.4,625.8 775.9,658.6 738.9,658.6"/>
<polygon points="784.7,583.3 803.2,616.1 766.2,616.1"/>
<polygon points="812,548.8 830.5,581.6 793.5,581.6"/>
<polygon points="839.3,552.8 857.8,585.6 820.8,585.6"/>
<polygon points="866.6,556.7 885.1,589.5 848.1,589.5"/>
<polygon points="893.9,546.5 912.4,579.3 875.4,579.3"/>
<polygon points="921.2,526.7 939.7,559.5 902.7,559.5"/>
<polygon points="948.5,508 967,540.8 930,540.8"/>
<polygon points="975.8,511.1 994.3,543.9 957.3,543.9"/>
<polygon points="1003.1,521.8 1021.6,554.6 984.6,554.6"/>
<polygon points="1030.4,511.1 1048.9,543.9 1011.9,543.9"/>
<polygon points="1057.7,513.8 1076.2,546.6 1039.2,546.6"/>
<polygon points="1085,548.3 1103.5,581.1 1066.5,581.1"/>
<polygon points="1112.3,559 1130.8,591.8 1093.8,591.8"/>
<polygon points="1139.6,582.9 1158.1,615.7 1121.1,615.7"/>
<polygon points="1166.9,598.8 1185.4,631.6 1148.4,631.6"/>
<polygon points="1194.2,606.8 1212.7,639.6 1175.7,639.6"/>
<polygon points="1221.5,646.6 1240,679.4 1203,679.4"/>
<polygon points="1248.8,667.9 1267.3,700.7 1230.3,700.7"/>
<polygon points="1276.1,695.9 1294.6,728.7 1257.6,728.7"/>
<polygon points="1303.4,696.4 1321.9,729.2 1284.9,729.2"/>
<polygon points="1330.7,721.3 1349.2,754.1 1312.2,754.1"/>
<polygon points="1358,783.1 1376.5,815.9 1339.5,815.9"/>
<polygon points="1385.3,775.2 1403.8,808 1366.8,808"/>
<polygon points="1412.6,790.4 1431.1,823.2 1394.1,823.2"/>
<polygon points="1439.9,816.9 1458.4,849.7 1421.4,849.7"/>
<polygon points="1467.2,816.9 1485.7,849.7 1448.7,849.7"/>
<polygon points="1494.5,839 1513,871.8 1476,871.8"/>
<polygon points="1521.8,839 1540.3,871.8 1503.3,871.8"/>
<polygon points="1549.1,864.2 1567.6,897 1530.6,897"/>
<polygon points="1576.4,896.1 1594.9,928.9 1557.9,928.9"/>
<polygon points="1603.7,888.1 1622.2,920.9 1585.2,920.9"/>
<polygon points="1631,902.2 1649.5,935 1612.5,935"/>
</g>
<g fill="#ff00ff">
<polygon points="263.5,938 268.5,938 285,954.5 285,959.5 268.5,976 263.5,976 247,959.5 247,954.5"/>
<polygon points="290.8,916.5 295.8,916.5 312.3,933 312.3,938 295.8,954.5 290.8,954.5 274.3,938 274.3,933"/>
<polygon points="318.1,938 323.1,938 339.6,954.5 339.6,959.5 323.1,976 318.1,976 301.6,959.5 301.6,954.5"/>
<polygon points="345.4,936 350.4,936 366.9,952.5 366.9,957.5 350.4,974 345.4,974 328.9,957.5 328.9,952.5"/>
<polygon points="372.7,936 377.7,936 394.2,952.5 394.2,957.5 377.7,974 372.7,974 356.2,957.5 356.2,952.5"/>
<polygon points="400,931 405,931 421.5,947.5 421.5,952.5 405,969 400,969 383.5,952.5 383.5,947.5"/>
<polygon points="427.3,919.5 432.3,919.5 448.8,936 448.8,941 432.3,957.5 427.3,957.5 410.8,941 410.8,936"/>
<polygon points="454.6,881.5 459.6,881.5 476.1,898 476.1,903 459.6,919.5 454.6,919.5 438.1,903 438.1,898"/>
<polygon points="481.9,884.5 486.9,884.5 503.4,901 503.4,906 486.9,922.5 481.9,922.5 465.4,906 465.4,901"/>
<polygon points="536.5,864 541.5,864 558,880.5 558,885.5 541.5,902 536.5,902 520,885.5 520,880.5"/>
<polygon points="563.8,833.7 568.8,833.7 585.3,850.2 585.3,855.2 568.8,871.7 563.8,871.7 547.3,855.2 547.3,850.2"/>
<polygon points="591.1,800.5 596.1,800.5 612.6,817 612.6,822 596.1,838.5 591.1,838.5 574.6,822 574.6,817"/>
<polygon points="618.4,738.1 623.4,738.1 639.9,754.6 639.9,759.6 623.4,776.1 618.4,776.1 601.9,759.6 601.9,754.6"/>
<polygon points="645.7,720.8 650.7,720.8 667.2,737.3 667.2,742.3 650.7,758.8 645.7,758.8 629.2,742.3 629.2,737.3"/>
<polygon points="673,679.5 678,679.5 694.5,696 694.5,701 678,717.5 673,717.5 656.5,701 656.5,696"/>
<polygon points="700.3,617.4 705.3,617.4 721.8,633.9 721.8,638.9 705.3,655.4 700.3,655.4 683.8,638.9 683.8,633.9"/>
<polygon points="727.6,575.5 732.6,575.5 749.1,592 749.1,597 732.6,613.5 727.6,613.5 711.1,597 711.1,592"/>
<polygon points="754.9,553.7 759.9,553.7 776.4,570.2 776.4,575.2 759.9,591.7 754.9,591.7 738.4,575.2 738.4,570.2"/>
<polygon points="809.5,528.4 814.5,528.4 831,544.9 831,549.9 814.5,566.4 809.5,566.4 793,549.9 793,544.9"/>
<polygon points="864.1,503.2 869.1,503.2 885.6,519.7 885.6,524.7 869.1,541.2 864.1,541.2 847.6,524.7 847.6,519.7"/>
<polygon points="891.4,471 896.4,471 912.9,487.5 912.9,492.5 896.4,509 891.4,509 874.9,492.5 874.9,487.5"/>
<polygon points="918.7,483 923.7,483 940.2,499.5 940.2,504.5 923.7,521 918.7,521 902.2,504.5 902.2,499.5"/>
<polygon points="946,443.6 951,443.6 967.5,460.1 967.5,465.1 951,481.6 946,481.6 929.5,465.1 929.5,460.1"/>
<polygon points="973.3,484 978.3,484 994.8,500.5 994.8,505.5 978.3,522 973.3,522 956.8,505.5 956.8,500.5"/>
<polygon points="1000.6,481.3 1005.6,481.3 1022.1,497.8 1022.1,502.8 1005.6,519.3 1000.6,519.3 984.1,502.8 984.1,497.8"/>
<polygon points="1027.9,479.5 1032.9,479.5 1049.4,496 1049.4,501 1032.9,517.5 1027.9,517.5 1011.4,501 1011.4,496"/>
<polygon points="1055.2,486 1060.2,486 1076.7,502.5 1076.7,507.5 1060.2,524 1055.2,524 1038.7,507.5 1038.7,502.5"/>
<polygon points="1082.5,505.4 1087.5,505.4 1104,521.9 1104,526.9 1087.5,543.4 1082.5,543.4 1066,526.9 1066,521.9"/>
<polygon points="1109.8,517 1114.8,517 1131.3,533.5 1131.3,538.5 1114.8,555 1109.8,555 1093.3,538.5 1093.3,533.5"/>
<polygon points="1137.1,578.4 1142.1,578.4 1158.6,594.9 1158.6,599.9 1142.1,616.4 1137.1,616.4 1120.6,599.9 1120.6,594.9"/>
<polygon points="1164.4,590.4 1169.4,590.4 1185.9,606.9 1185.9,611.9 1169.4,628.4 1164.4,628.4 1147.9,611.9 1147.9,606.9"/>
<polygon points="1191.7,580.3 1196.7,580.3 1213.2,596.8 1213.2,601.8 1196.7,618.3 1191.7,618.3 1175.2,601.8 1175.2,596.8"/>
<polygon points="1219,629 1224,629 1240.5,645.5 1240.5,650.5 1224,667 1219,667 1202.5,650.5 1202.5,645.5"/>
<polygon points="1246.3,652.8 1251.3,652.8 1267.8,669.3 1267.8,674.3 1251.3,690.8 1246.3,690.8 1229.8,674.3 1229.8,669.3"/>
<polygon points="1273.6,650.2 1278.6,650.2 1295.1,666.7 1295.1,671.7 1278.6,688.2 1273.6,688.2 1257.1,671.7 1257.1,666.7"/>
<polygon points="1300.9,718 1305.9,718 1322.4,734.5 1322.4,739.5 1305.9,756 1300.9,756 1284.4,739.5 1284.4,734.5"/>
<polygon points="1328.2,694 1333.2,694 1349.7,710.5 1349.7,715.5 1333.2,732 1328.2,732 1311.7,715.5 1311.7,710.5"/>
<polygon points="1355.5,740.8 1360.5,740.8 1377,757.3 1377,762.3 1360.5,778.8 1355.5,778.8 1339,762.3 1339,757.3"/>
<polygon points="1382.8,780.6 1387.8,780.6 1404.3,797.1 1404.3,802.1 1387.8,818.6 1382.8,818.6 1366.3,802.1 1366.3,797.1"/>
<polygon points="1410.1,760.7 1415.1,760.7 1431.6,777.2 1431.6,782.2 1415.1,798.7 1410.1,798.7 1393.6,782.2 1393.6,777.2"/>
<polygon points="1437.4,775.3 1442.4,775.3 1458.9,791.8 1458.9,796.8 1442.4,813.3 1437.4,813.3 1420.9,796.8 1420.9,791.8"/>
<polygon points="1464.7,807.2 1469.7,807.2 1486.2,823.7 1486.2,828.7 1469.7,845.2 1464.7,845.2 1448.2,828.7 1448.2,823.7"/>
<polygon points="1492,837.7 1497,837.7 1513.5,854.2 1513.5,859.2 1497,875.7 1492,875.7 1475.5,859.2 1475.5,854.2"/>
<polygon points="1519.3,864.3 1524.3,864.3 1540.8,880.8 1540.8,885.8 1524.3,902.3 1519.3,902.3 1502.8,885.8 1502.8,880.8"/>
<polygon points="1546.6,882.9 1551.6,882.9 1568.1,899.4 1568.1,904.4 1551.6,920.9 1546.6,920.9 1530.1,904.4 1530.1,899.4"/>
<polygon points="1573.9,898.8 1578.9,898.8 1595.4,915.3 1595.4,920.3 1578.9,936.8 1573.9,936.8 1557.4,920.3 1557.4,915.3"/>
<polygon points="1601.2,912 1606.2,912 1622.7,928.5 1622.7,933.5 1606.2,950 1601.2,950 1584.7,933.5 1584.7,928.5"/>
<polygon points="1628.5,893.5 1633.5,893.5 1650,910 1650,915 1633.5,931.5 1628.5,931.5 1612,915 1612,910"/>
</g>
<g fill="#008000" stroke="#008000" stroke-width="1.6" stroke-linejoin="round">
<polygon points="266,930.8 270.3,942.7 283,943.2 273,951 276.5,963.2 266,956.1 255.5,963.2 259,951 249,943.2 261.7,942.7"/>
<polygon points="293.3,931.4 297.6,943.3 310.3,943.8 300.3,951.6 303.8,963.8 293.3,956.7 282.8,963.8 286.3,951.6 276.3,943.8 289,943.3"/>
<polygon points="320.6,929.8 324.9,941.7 337.6,942.2 327.6,950 331.1,962.2 320.6,955.1 310.1,962.2 313.6,950 303.6,942.2 316.3,941.7"/>
<polygon points="347.9,927.8 352.2,939.7 364.9,940.2 354.9,948 358.4,960.2 347.9,953.1 337.4,960.2 340.9,948 330.9,940.2 343.6,939.7"/>
<polygon points="375.2,925.2 379.5,937.1 392.2,937.6 382.2,945.4 385.7,957.6 375.2,950.5 364.7,957.6 368.2,945.4 358.2,937.6 370.9,937.1"/>
<polygon points="402.5,920.8 406.8,932.7 419.5,933.2 409.5,941 413,953.2 402.5,946.1 392,953.2 395.5,941 385.5,933.2 398.2,932.7"/>
<polygon points="429.8,918.2 434.1,930.1 446.8,930.6 436.8,938.4 440.3,950.6 429.8,943.5 419.3,950.6 422.8,938.4 412.8,930.6 425.5,930.1"/>
<polygon points="457.1,908.8 461.4,920.7 474.1,921.2 464.1,929 467.6,941.2 457.1,934.1 446.6,941.2 450.1,929 440.1,921.2 452.8,920.7"/>
<polygon points="484.4,906.8 488.7,918.7 501.4,919.2 491.4,927 494.9,939.2 484.4,932.1 473.9,939.2 477.4,927 467.4,919.2 480.1,918.7"/>
<polygon points="511.7,890.8 516,902.7 528.7,903.2 518.7,911 522.2,923.2 511.7,916.1 501.2,923.2 504.7,911 494.7,903.2 507.4,902.7"/>
<polygon points="539,875.8 543.3,887.7 556,888.2 546,896 549.5,908.2 539,901.1 528.5,908.2 532,896 522,888.2 534.7,887.7"/>
<polygon points="566.3,855.5 570.6,867.4 583.3,867.9 573.3,875.7 576.8,887.9 566.3,880.8 555.8,887.9 559.3,875.7 549.3,867.9 562,867.4"/>
<polygon points="593.6,822.3 597.9,834.2 610.6,834.7 600.6,842.5 604.1,854.7 593.6,847.6 583.1,854.7 586.6,842.5 576.6,834.7 589.3,834.2"/>
<polygon points="620.9,782.4 625.2,794.3 637.9,794.8 627.9,802.6 631.4,814.8 620.9,807.7 610.4,814.8 613.9,802.6 603.9,794.8 616.6,794.3"/>
<polygon points="648.2,745.2 652.5,757.1 665.2,757.6 655.2,765.4 658.7,777.6 648.2,770.5 637.7,777.6 641.2,765.4 631.2,757.6 643.9,757.1"/>
<polygon points="675.5,703.8 679.8,715.7 692.5,716.2 682.5,724 686,736.2 675.5,729.1 665,736.2 668.5,724 658.5,716.2 671.2,715.7"/>
<polygon points="702.8,668.4 707.1,680.3 719.8,680.8 709.8,688.6 713.3,700.8 702.8,693.7 692.3,700.8 695.8,688.6 685.8,680.8 698.5,680.3"/>
<polygon points="730.1,625.8 734.4,637.7 747.1,638.2 737.1,646 740.6,658.2 730.1,651.1 719.6,658.2 723.1,646 713.1,638.2 725.8,637.7"/>
<polygon points="757.4,599.3 761.7,611.2 774.4,611.7 764.4,619.5 767.9,631.7 757.4,624.6 746.9,631.7 750.4,619.5 740.4,611.7 753.1,611.2"/>
<polygon points="784.7,578.1 789,590 801.7,590.5 791.7,598.3 795.2,610.5 784.7,603.4 774.2,610.5 777.7,598.3 767.7,590.5 780.4,590"/>
<polygon points="812,571.4 816.3,583.3 829,583.8 819,591.6 822.5,603.8 812,596.7 801.5,603.8 805,591.6 795,583.8 807.7,583.3"/>
<polygon points="839.3,555.5 843.6,567.4 856.3,567.9 846.3,575.7 849.8,587.9 839.3,580.8 828.8,587.9 832.3,575.7 822.3,567.9 835,567.4"/>
<polygon points="866.6,548.8 870.9,560.7 883.6,561.2 873.6,569 877.1,581.2 866.6,574.1 856.1,581.2 859.6,569 849.6,561.2 862.3,560.7"/>
<polygon points="893.9,544.8 898.2,556.7 910.9,557.2 900.9,565 904.4,577.2 893.9,570.1 883.4,577.2 886.9,565 876.9,557.2 889.6,556.7"/>
<polygon points="921.2,559.3 925.5,571.2 938.2,571.7 928.2,579.5 931.7,591.7 921.2,584.6 910.7,591.7 914.2,579.5 904.2,571.7 916.9,571.2"/>
<polygon points="948.5,563.8 952.8,575.7 965.5,576.2 955.5,584 959,596.2 948.5,589.1 938,596.2 941.5,584 931.5,576.2 944.2,575.7"/>
<polygon points="975.8,580.2 980.1,592.1 992.8,592.6 982.8,600.4 986.3,612.6 975.8,605.5 965.3,612.6 968.8,600.4 958.8,592.6 971.5,592.1"/>
<polygon points="1003.1,576.2 1007.4,588.1 1020.1,588.6 1010.1,596.4 1013.6,608.6 1003.1,601.5 992.6,608.6 996.1,596.4 986.1,588.6 998.8,588.1"/>
<polygon points="1030.4,596.2 1034.7,608.1 1047.4,608.6 1037.4,616.4 1040.9,628.6 1030.4,621.5 1019.9,628.6 1023.4,616.4 1013.4,608.6 1026.1,608.1"/>
<polygon points="1057.7,618.8 1062,630.7 1074.7,631.2 1064.7,639 1068.2,651.2 1057.7,644.1 1047.2,651.2 1050.7,639 1040.7,631.2 1053.4,630.7"/>
<polygon points="1085,636 1089.3,647.9 1102,648.4 1092,656.2 1095.5,668.4 1085,661.3 1074.5,668.4 1078,656.2 1068,648.4 1080.7,647.9"/>
<polygon points="1112.3,654.6 1116.6,666.5 1129.3,667 1119.3,674.8 1122.8,687 1112.3,679.9 1101.8,687 1105.3,674.8 1095.3,667 1108,666.5"/>
<polygon points="1139.6,673.2 1143.9,685.1 1156.6,685.6 1146.6,693.4 1150.1,705.6 1139.6,698.5 1129.1,705.6 1132.6,693.4 1122.6,685.6 1135.3,685.1"/>
<polygon points="1166.9,678.5 1171.2,690.4 1183.9,690.9 1173.9,698.7 1177.4,710.9 1166.9,703.8 1156.4,710.9 1159.9,698.7 1149.9,690.9 1162.6,690.4"/>
<polygon points="1194.2,707.8 1198.5,719.7 1211.2,720.2 1201.2,728 1204.7,740.2 1194.2,733.1 1183.7,740.2 1187.2,728 1177.2,720.2 1189.9,719.7"/>
<polygon points="1221.5,706.6 1225.8,718.5 1238.5,719 1228.5,726.8 1232,739 1221.5,731.9 1211,739 1214.5,726.8 1204.5,719 1217.2,718.5"/>
<polygon points="1248.8,753.2 1253.1,765.1 1265.8,765.6 1255.8,773.4 1259.3,785.6 1248.8,778.5 1238.3,785.6 1241.8,773.4 1231.8,765.6 1244.5,765.1"/>
<polygon points="1276.1,746.6 1280.4,758.5 1293.1,759 1283.1,766.8 1286.6,779 1276.1,771.9 1265.6,779 1269.1,766.8 1259.1,759 1271.8,758.5"/>
<polygon points="1303.4,781.1 1307.7,793 1320.4,793.5 1310.4,801.3 1313.9,813.5 1303.4,806.4 1292.9,813.5 1296.4,801.3 1286.4,793.5 1299.1,793"/>
<polygon points="1330.7,810.3 1335,822.2 1347.7,822.7 1337.7,830.5 1341.2,842.7 1330.7,835.6 1320.2,842.7 1323.7,830.5 1313.7,822.7 1326.4,822.2"/>
<polygon points="1358,822.3 1362.3,834.2 1375,834.7 1365,842.5 1368.5,854.7 1358,847.6 1347.5,854.7 1351,842.5 1341,834.7 1353.7,834.2"/>
<polygon points="1385.3,836.8 1389.6,848.7 1402.3,849.2 1392.3,857 1395.8,869.2 1385.3,862.1 1374.8,869.2 1378.3,857 1368.3,849.2 1381,848.7"/>
<polygon points="1412.6,850.2 1416.9,862.1 1429.6,862.6 1419.6,870.4 1423.1,882.6 1412.6,875.5 1402.1,882.6 1405.6,870.4 1395.6,862.6 1408.3,862.1"/>
<polygon points="1439.9,878.1 1444.2,890 1456.9,890.5 1446.9,898.3 1450.4,910.5 1439.9,903.4 1429.4,910.5 1432.9,898.3 1422.9,890.5 1435.6,890"/>
<polygon points="1467.2,887.3 1471.5,899.2 1484.2,899.7 1474.2,907.5 1477.7,919.7 1467.2,912.6 1456.7,919.7 1460.2,907.5 1450.2,899.7 1462.9,899.2"/>
<polygon points="1494.5,866.1 1498.8,878 1511.5,878.5 1501.5,886.3 1505,898.5 1494.5,891.4 1484,898.5 1487.5,886.3 1477.5,878.5 1490.2,878"/>
<polygon points="1521.8,898 1526.1,909.9 1538.8,910.4 1528.8,918.2 1532.3,930.4 1521.8,923.3 1511.3,930.4 1514.8,918.2 1504.8,910.4 1517.5,909.9"/>
<polygon points="1549.1,911.3 1553.4,923.2 1566.1,923.7 1556.1,931.5 1559.6,943.7 1549.1,936.6 1538.6,943.7 1542.1,931.5 1532.1,923.7 1544.8,923.2"/>
<polygon points="1576.4,920.6 1580.7,932.5 1593.4,933 1583.4,940.8 1586.9,953 1576.4,945.9 1565.9,953 1569.4,940.8 1559.4,933 1572.1,932.5"/>
<polygon points="1603.7,916.6 1608,928.5 1620.7,929 1610.7,936.8 1614.2,949 1603.7,941.9 1593.2,949 1596.7,936.8 1586.7,929 1599.4,928.5"/>
<polygon points="1631,916.6 1635.3,928.5 1648,929 1638,936.8 1641.5,949 1631,941.9 1620.5,949 1624,936.8 1614,929 1626.7,928.5"/>
</g>
<g fill="#ffffff" stroke="#ff0000" stroke-width="3.9">
<path d="M253.5 962.5a12.5 13.2 0 1 0 25 0a12.5 13.2 0 1 0 -25 0zM262.2 947.3h7.5 M262.2 977.7h7.5 M252.1 958.8v7.5 M279.9 958.8v7.5"/>
<path d="M280.8 962.5a12.5 13.2 0 1 0 25 0a12.5 13.2 0 1 0 -25 0zM289.6 947.3h7.5 M289.6 977.7h7.5 M279.4 958.8v7.5 M307.2 958.8v7.5"/>
<path d="M308.1 962.5a12.5 13.2 0 1 0 25 0a12.5 13.2 0 1 0 -25 0zM316.9 947.3h7.5 M316.9 977.7h7.5 M306.7 958.8v7.5 M334.5 958.8v7.5"/>
<path d="M335.4 962.5a12.5 13.2 0 1 0 25 0a12.5 13.2 0 1 0 -25 0zM344.1 947.3h7.5 M344.1 977.7h7.5 M334 958.8v7.5 M361.8 958.8v7.5"/>
<path d="M362.7 962.5a12.5 13.2 0 1 0 25 0a12.5 13.2 0 1 0 -25 0zM371.4 947.3h7.5 M371.4 977.7h7.5 M361.3 958.8v7.5 M389.1 958.8v7.5"/>
<path d="M390 962.5a12.5 13.2 0 1 0 25 0a12.5 13.2 0 1 0 -25 0zM398.8 947.3h7.5 M398.8 977.7h7.5 M388.6 958.8v7.5 M416.4 958.8v7.5"/>
<path d="M417.3 962.5a12.5 13.2 0 1 0 25 0a12.5 13.2 0 1 0 -25 0zM426.1 947.3h7.5 M426.1 977.7h7.5 M415.9 958.8v7.5 M443.7 958.8v7.5"/>
<path d="M444.6 962.5a12.5 13.2 0 1 0 25 0a12.5 13.2 0 1 0 -25 0zM453.4 947.3h7.5 M453.4 977.7h7.5 M443.2 958.8v7.5 M471 958.8v7.5"/>
<path d="M471.9 962.5a12.5 13.2 0 1 0 25 0a12.5 13.2 0 1 0 -25 0zM480.6 947.3h7.5 M480.6 977.7h7.5 M470.5 958.8v7.5 M498.3 958.8v7.5"/>
<path d="M499.2 942.5a12.5 13.2 0 1 0 25 0a12.5 13.2 0 1 0 -25 0zM508 927.3h7.5 M508 957.7h7.5 M497.8 938.8v7.5 M525.6 938.8v7.5"/>
<path d="M526.5 933a12.5 13.2 0 1 0 25 0a12.5 13.2 0 1 0 -25 0zM535.2 917.8h7.5 M535.2 948.2h7.5 M525.1 929.2v7.5 M552.9 929.2v7.5"/>
<path d="M553.8 907.7a12.5 13.2 0 1 0 25 0a12.5 13.2 0 1 0 -25 0zM562.5 892.5h7.5 M562.5 922.9h7.5 M552.4 904v7.5 M580.2 904v7.5"/>
<path d="M581.1 882.5a12.5 13.2 0 1 0 25 0a12.5 13.2 0 1 0 -25 0zM589.9 867.3h7.5 M589.9 897.7h7.5 M579.7 878.8v7.5 M607.5 878.8v7.5"/>
<path d="M608.4 822.7a12.5 13.2 0 1 0 25 0a12.5 13.2 0 1 0 -25 0zM617.2 807.5h7.5 M617.2 837.9h7.5 M607 819v7.5 M634.8 819v7.5"/>
<path d="M635.7 787.6a12.5 13.2 0 1 0 25 0a12.5 13.2 0 1 0 -25 0zM644.5 772.4h7.5 M644.5 802.8h7.5 M634.3 783.9v7.5 M662.1 783.9v7.5"/>
<path d="M663 732.4a12.5 13.2 0 1 0 25 0a12.5 13.2 0 1 0 -25 0zM671.8 717.2h7.5 M671.8 747.6h7.5 M661.6 728.6v7.5 M689.4 728.6v7.5"/>
<path d="M690.3 647.5a12.5 13.2 0 1 0 25 0a12.5 13.2 0 1 0 -25 0zM699 632.3h7.5 M699 662.7h7.5 M688.9 643.8v7.5 M716.7 643.8v7.5"/>
<path d="M717.6 558.6a12.5 13.2 0 1 0 25 0a12.5 13.2 0 1 0 -25 0zM726.4 543.4h7.5 M726.4 573.8h7.5 M716.2 554.9v7.5 M744 554.9v7.5"/>
<path d="M744.9 501.5a12.5 13.2 0 1 0 25 0a12.5 13.2 0 1 0 -25 0zM753.7 486.3h7.5 M753.7 516.7h7.5 M743.5 497.8v7.5 M771.3 497.8v7.5"/>
<path d="M772.2 458.5a12.5 13.2 0 1 0 25 0a12.5 13.2 0 1 0 -25 0zM781 443.3h7.5 M781 473.7h7.5 M770.8 454.8v7.5 M798.6 454.8v7.5"/>
<path d="M799.5 428.7a12.5 13.2 0 1 0 25 0a12.5 13.2 0 1 0 -25 0zM808.2 413.5h7.5 M808.2 443.9h7.5 M798.1 424.9v7.5 M825.9 424.9v7.5"/>
<path d="M826.8 393.1a12.5 13.2 0 1 0 25 0a12.5 13.2 0 1 0 -25 0zM835.6 377.9h7.5 M835.6 408.3h7.5 M825.4 389.4v7.5 M853.2 389.4v7.5"/>
<path d="M854.1 393.1a12.5 13.2 0 1 0 25 0a12.5 13.2 0 1 0 -25 0zM862.9 377.9h7.5 M862.9 408.3h7.5 M852.7 389.4v7.5 M880.5 389.4v7.5"/>
<path d="M881.4 393.1a12.5 13.2 0 1 0 25 0a12.5 13.2 0 1 0 -25 0zM890.1 377.9h7.5 M890.1 408.3h7.5 M880 389.4v7.5 M907.8 389.4v7.5"/>
<path d="M908.7 393.1a12.5 13.2 0 1 0 25 0a12.5 13.2 0 1 0 -25 0zM917.5 377.9h7.5 M917.5 408.3h7.5 M907.3 389.4v7.5 M935.1 389.4v7.5"/>
<path d="M936 389.1a12.5 13.2 0 1 0 25 0a12.5 13.2 0 1 0 -25 0zM944.8 373.9h7.5 M944.8 404.3h7.5 M934.6 385.4v7.5 M962.4 385.4v7.5"/>
<path d="M963.3 393.1a12.5 13.2 0 1 0 25 0a12.5 13.2 0 1 0 -25 0zM972.1 377.9h7.5 M972.1 408.3h7.5 M961.9 389.4v7.5 M989.7 389.4v7.5"/>
<path d="M990.6 408.2a12.5 13.2 0 1 0 25 0a12.5 13.2 0 1 0 -25 0zM999.4 393h7.5 M999.4 423.4h7.5 M989.2 404.4v7.5 M1017 404.4v7.5"/>
<path d="M1017.9 448.1a12.5 13.2 0 1 0 25 0a12.5 13.2 0 1 0 -25 0zM1026.7 432.9h7.5 M1026.7 463.3h7.5 M1016.5 444.4v7.5 M1044.3 444.4v7.5"/>
<path d="M1045.2 468.4a12.5 13.2 0 1 0 25 0a12.5 13.2 0 1 0 -25 0zM1054 453.2h7.5 M1054 483.6h7.5 M1043.8 464.6v7.5 M1071.6 464.6v7.5"/>
<path d="M1072.5 501.5a12.5 13.2 0 1 0 25 0a12.5 13.2 0 1 0 -25 0zM1081.2 486.3h7.5 M1081.2 516.7h7.5 M1071.1 497.8v7.5 M1098.9 497.8v7.5"/>
<path d="M1099.8 537.6a12.5 13.2 0 1 0 25 0a12.5 13.2 0 1 0 -25 0zM1108.6 522.4h7.5 M1108.6 552.8h7.5 M1098.4 533.9v7.5 M1126.2 533.9v7.5"/>
<path d="M1127.1 547.5a12.5 13.2 0 1 0 25 0a12.5 13.2 0 1 0 -25 0zM1135.8 532.3h7.5 M1135.8 562.7h7.5 M1125.7 543.8v7.5 M1153.5 543.8v7.5"/>
<path d="M1154.4 592.6a12.5 13.2 0 1 0 25 0a12.5 13.2 0 1 0 -25 0zM1163.2 577.4h7.5 M1163.2 607.8h7.5 M1153 588.9v7.5 M1180.8 588.9v7.5"/>
<path d="M1181.7 628.5a12.5 13.2 0 1 0 25 0a12.5 13.2 0 1 0 -25 0zM1190.5 613.3h7.5 M1190.5 643.7h7.5 M1180.3 624.8v7.5 M1208.1 624.8v7.5"/>
<path d="M1209 658.2a12.5 13.2 0 1 0 25 0a12.5 13.2 0 1 0 -25 0zM1217.8 643h7.5 M1217.8 673.4h7.5 M1207.6 654.5v7.5 M1235.4 654.5v7.5"/>
<path d="M1236.3 718a12.5 13.2 0 1 0 25 0a12.5 13.2 0 1 0 -25 0zM1245.1 702.8h7.5 M1245.1 733.2h7.5 M1234.9 714.2v7.5 M1262.7 714.2v7.5"/>
<path d="M1263.6 746.5a12.5 13.2 0 1 0 25 0a12.5 13.2 0 1 0 -25 0zM1272.3 731.3h7.5 M1272.3 761.7h7.5 M1262.2 742.8v7.5 M1290 742.8v7.5"/>
<path d="M1290.9 778.1a12.5 13.2 0 1 0 25 0a12.5 13.2 0 1 0 -25 0zM1299.7 762.9h7.5 M1299.7 793.3h7.5 M1289.5 774.4v7.5 M1317.3 774.4v7.5"/>
<path d="M1318.2 808.1a12.5 13.2 0 1 0 25 0a12.5 13.2 0 1 0 -25 0zM1327 792.9h7.5 M1327 823.3h7.5 M1316.8 804.4v7.5 M1344.6 804.4v7.5"/>
<path d="M1345.5 813.4a12.5 13.2 0 1 0 25 0a12.5 13.2 0 1 0 -25 0zM1354.2 798.2h7.5 M1354.2 828.6h7.5 M1344.1 809.6v7.5 M1371.9 809.6v7.5"/>
</g>
</g>
</g>
<g id="legend">
<rect x="690.5" y="787" width="528" height="558.5" fill="#ffffff" stroke="#000000" stroke-width="2.6"/>
<g fill="#ffffff" stroke="#ff0000" stroke-width="3.6"><path d="M778.7 847.5a15.5 15.5 0 1 0 31 0a15.5 15.5 0 1 0 -31 0z"/></g>
<g fill="#000000"><rect x="779.7" y="1026.3" width="29" height="29"/></g>
<g fill="#0000ff"><polygon points="794,1106.5 812.2,1139.5 775.8,1139.5"/></g>
<g fill="#ff00ff"><polygon points="794,1194.6 814.7,1215.3 794,1236 773.3,1215.3"/></g>
<g fill="#008000" stroke="#008000" stroke-width="1" stroke-linejoin="round"><polygon points="794,1284.2 798.3,1296.8 811.7,1297.1 801,1305.1 804.9,1317.8 794,1310.2 783.1,1317.8 787,1305.1 776.3,1297.1 789.7,1296.8"/></g>
</g>
<g id="labels" clip-path="url(#labclip)">
<text transform="translate(244.5 84) scale(1 1.07)" font-size="78.5" text-anchor="end" stroke="#000000" stroke-width="0.7" stroke-linejoin="round">1.5</text>
<text transform="translate(244.5 384) scale(1 1.07)" font-size="78.5" text-anchor="end" stroke="#000000" stroke-width="0.7" stroke-linejoin="round">1.0</text>
<text transform="translate(244.5 684) scale(1 1.07)" font-size="78.5" text-anchor="end" stroke="#000000" stroke-width="0.7" stroke-linejoin="round">0.5</text>
<text transform="translate(244.5 984) scale(1 1.07)" font-size="78.5" text-anchor="end" stroke="#000000" stroke-width="0.7" stroke-linejoin="round">0.0</text>
<text transform="translate(244 1171.3) scale(1 1.07)" font-size="78.5" text-anchor="end" stroke="#000000" stroke-width="0.7" stroke-linejoin="round">-20</text>
<text transform="translate(244 1358.8) scale(1 1.07)" font-size="78.5" text-anchor="end" stroke="#000000" stroke-width="0.7" stroke-linejoin="round">-40</text>
<text transform="translate(244 1546.3) scale(1 1.07)" font-size="78.5" text-anchor="end" stroke="#000000" stroke-width="0.7" stroke-linejoin="round">-60</text>
<text transform="translate(244 1733.8) scale(1 1.07)" font-size="78.5" text-anchor="end" stroke="#000000" stroke-width="0.7" stroke-linejoin="round">-80</text>
<text transform="translate(266 1842.8) scale(1 1.03)" font-size="80" text-anchor="middle" stroke="#000000" stroke-width="0.7" stroke-linejoin="round">1.5</text>
<text transform="translate(539 1842.8) scale(1 1.03)" font-size="80" text-anchor="middle" stroke="#000000" stroke-width="0.7" stroke-linejoin="round">2.0</text>
<text transform="translate(811 1842.8) scale(1 1.03)" font-size="80" text-anchor="middle" stroke="#000000" stroke-width="0.7" stroke-linejoin="round">2.5</text>
<text transform="translate(1084 1842.8) scale(1 1.03)" font-size="80" text-anchor="middle" stroke="#000000" stroke-width="0.7" stroke-linejoin="round">3.0</text>
<text transform="translate(1357.5 1842.8) scale(1 1.03)" font-size="80" text-anchor="middle" stroke="#000000" stroke-width="0.7" stroke-linejoin="round">3.5</text>
<text transform="translate(1630 1842.8) scale(1 1.03)" font-size="80" text-anchor="middle" stroke="#000000" stroke-width="0.7" stroke-linejoin="round">4.0</text>
<text transform="translate(950.5 1955)" font-size="80" text-anchor="middle" stroke="#000000" stroke-width="0.7" stroke-linejoin="round">Photon energy (eV)</text>
<text transform="translate(99.3 495.5) rotate(-90) scale(1.01 1.02)" font-size="80" text-anchor="middle" stroke="#000000" stroke-width="0.7" stroke-linejoin="round">SPV amplitude (mV)</text>
<text transform="translate(106 1556) rotate(-90)" font-size="80" stroke="#000000" stroke-width="0.7" stroke-linejoin="round">Phase <tspan dx="-1.5">(</tspan><tspan font-size="61.5" stroke-width="0.4" dx="1.5" dy="-39.7">o</tspan><tspan dx="0.6" dy="39.7">)</tspan></text>
<text transform="translate(304 164.5) scale(1.04 1)" font-size="74" stroke="#000000" stroke-width="0.7" stroke-linejoin="round">(a)</text>
<text transform="translate(310 1077.5) scale(1.04 1)" font-size="74" stroke="#000000" stroke-width="0.7" stroke-linejoin="round">(b)</text>
<text transform="translate(891.5 869.5) scale(1 1.05)" font-size="70.3" stroke="#000000" stroke-width="0.7" stroke-linejoin="round">bare In<tspan font-size="43.5" dy="23">2</tspan><tspan dy="-23">S</tspan><tspan font-size="43.5" dy="23">3</tspan></text>
<text transform="translate(869.5 976) scale(1 1.04)" font-size="71" stroke="#000000" stroke-width="0.7" stroke-linejoin="round">Co (at%)</text>
<text transform="translate(891.5 1064.6) scale(1 1.05)" font-size="70.3" stroke="#000000" stroke-width="0.7" stroke-linejoin="round">0.00</text>
<text transform="translate(891.5 1149) scale(1 1.05)" font-size="70.3" stroke="#000000" stroke-width="0.7" stroke-linejoin="round">0.60</text>
<text transform="translate(891.5 1237.5) scale(1 1.05)" font-size="70.3" stroke="#000000" stroke-width="0.7" stroke-linejoin="round">1.25</text>
<text transform="translate(891.5 1324.5) scale(1 1.05)" font-size="70.3" stroke="#000000" stroke-width="0.7" stroke-linejoin="round">2.40</text>
</g>
</svg>
</body>
</html>
